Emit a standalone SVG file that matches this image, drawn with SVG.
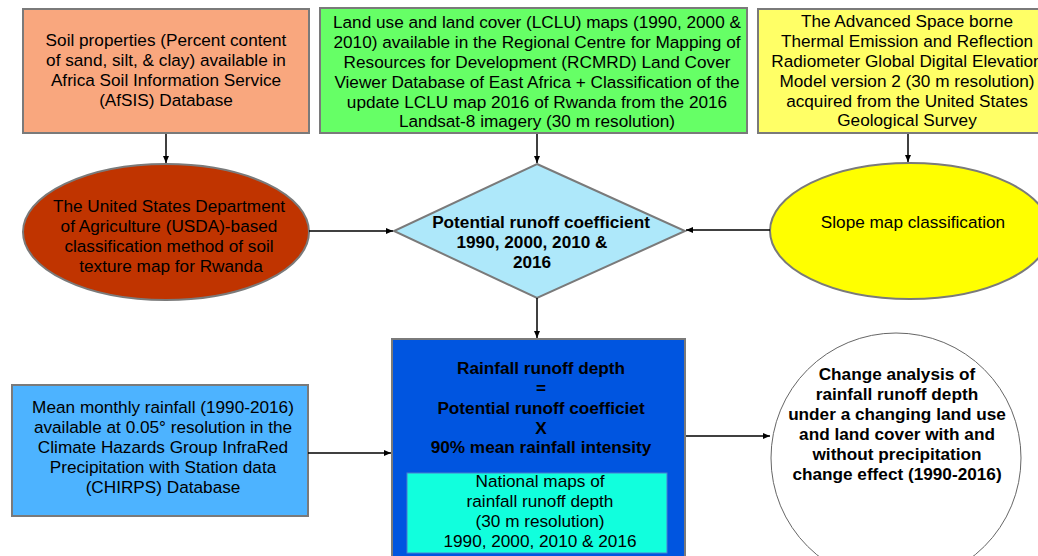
<svg xmlns="http://www.w3.org/2000/svg" width="1038" height="556" viewBox="0 0 1038 556">
<defs>
<marker id="ah" markerWidth="8" markerHeight="8" refX="7" refY="4" orient="auto" markerUnits="userSpaceOnUse">
<path d="M0,1 L7,4 L0,7 Z" fill="#000"/>
</marker>
<style>
.t{font-family:"Liberation Sans",Arial,sans-serif;font-size:17.2px;fill:#000;text-anchor:middle}
.b{font-weight:bold}
.box{stroke:#7a7a7a;stroke-width:2}
.c{stroke:#000;stroke-width:1.5;fill:none;marker-end:url(#ah)}
</style>
</defs>
<rect width="1038" height="556" fill="#fff"/>
<g id="soil">
<rect class="box" x="23" y="9" width="286" height="124" fill="#F9A77E"/>
<text class="t" x="166" y="46">Soil properties (Percent content</text>
<text class="t" x="166" y="66">of sand, silt, &amp; clay) available in</text>
<text class="t" x="166" y="86">Africa Soil Information Service</text>
<text class="t" x="166" y="106">(AfSIS) Database</text>
</g>
<g id="lclu">
<rect class="box" x="320" y="8" width="427" height="125" fill="#66FF66"/>
<text class="t" x="537" y="28">Land use and land cover (LCLU) maps (1990, 2000 &amp;</text>
<text class="t" x="537" y="48">2010) available in the Regional Centre for Mapping of</text>
<text class="t" x="537" y="68">Resources for Development (RCMRD) Land Cover</text>
<text class="t" x="537" y="88">Viewer Database of East Africa + Classification of the</text>
<text class="t" x="537" y="108">update LCLU map 2016 of Rwanda from the 2016</text>
<text class="t" x="537" y="127">Landsat-8 imagery (30 m resolution)</text>
</g>
<g id="aster">
<rect class="box" x="758" y="9" width="300" height="124" fill="#FFFF66"/>
<text class="t" x="907" y="27">The Advanced Space borne</text>
<text class="t" x="907" y="47">Thermal Emission and Reflection</text>
<text class="t" x="907" y="67">Radiometer Global Digital Elevation</text>
<text class="t" x="907" y="87">Model version 2 (30 m resolution)</text>
<text class="t" x="907" y="107">acquired from the United States</text>
<text class="t" x="907" y="126">Geological Survey</text>
</g>
<g id="usda">
<ellipse class="box" cx="166" cy="232" rx="143" ry="68" fill="#C03400"/>
<text class="t" x="169" y="212" fill="#1a0500">The United States Department</text>
<text class="t" x="169" y="232">of Agriculture (USDA)-based</text>
<text class="t" x="169" y="252">classification method of soil</text>
<text class="t" x="171" y="272">texture map for Rwanda</text>
</g>
<g id="coef">
<polygon class="box" points="537,164 685,231 537,298 394,231" fill="#AEE8FA"/>
<text class="t b" x="541" y="228">Potential runoff coefficient</text>
<text class="t b" x="532" y="248">1990, 2000, 2010 &amp;</text>
<text class="t b" x="532" y="268">2016</text>
</g>
<g id="slope">
<ellipse class="box" cx="910" cy="231" rx="140" ry="68" fill="#FFFF00"/>
<text class="t" x="913" y="228">Slope map classification</text>
</g>
<g id="rain">
<rect class="box" x="12" y="385" width="296" height="131" fill="#4DB3FF"/>
<text class="t" x="163" y="413">Mean monthly rainfall (1990-2016)</text>
<text class="t" x="163" y="433">available at 0.05° resolution in the</text>
<text class="t" x="163" y="453">Climate Hazards Group InfraRed</text>
<text class="t" x="163" y="473">Precipitation with Station data</text>
<text class="t" x="163" y="493">(CHIRPS) Database</text>
</g>
<g id="depth">
<rect class="box" x="392" y="339" width="293" height="230" fill="#0055E0"/>
<text class="t b" x="541" y="374">Rainfall runoff depth</text>
<text class="t b" x="541" y="394">=</text>
<text class="t b" x="541" y="414">Potential runoff coefficiet</text>
<text class="t b" x="541" y="434">X</text>
<text class="t b" x="541" y="453">90% mean rainfall intensity</text>
<rect x="407" y="473" width="260" height="80" fill="#11FFDD" stroke="#4a7fd0" stroke-width="1"/>
<text class="t" x="540" y="487">National maps of</text>
<text class="t" x="540" y="507">rainfall runoff depth</text>
<text class="t" x="540" y="527">(30 m resolution)</text>
<text class="t" x="540" y="547">1990, 2000, 2010 &amp; 2016</text>
</g>
<g id="change">
<circle cx="896" cy="458" r="125" fill="#fff" stroke="#666" stroke-width="1"/>
<text class="t b" x="897" y="380">Change analysis of</text>
<text class="t b" x="897" y="400">rainfall runoff depth</text>
<text class="t b" x="897" y="420">under a changing land use</text>
<text class="t b" x="897" y="440">and land cover with and</text>
<text class="t b" x="897" y="460">without precipitation</text>
<text class="t b" x="897" y="480">change effect (1990-2016)</text>
</g>
<g id="connectors">
<line class="c" x1="166" y1="134" x2="166" y2="163"/>
<line class="c" x1="537" y1="134" x2="537" y2="163"/>
<line class="c" x1="908" y1="134" x2="908" y2="162"/>
<line class="c" x1="309" y1="231" x2="393" y2="231"/>
<line class="c" x1="770" y1="230" x2="686" y2="230"/>
<line class="c" x1="537" y1="298" x2="537" y2="338"/>
<line class="c" x1="308" y1="453" x2="391" y2="453"/>
<line class="c" x1="686" y1="436" x2="770" y2="436"/>
</g>
</svg>
